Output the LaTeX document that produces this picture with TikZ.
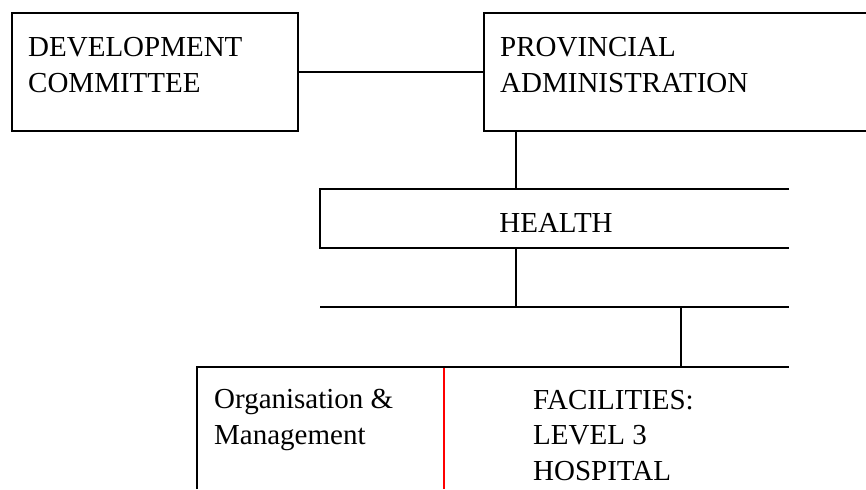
\documentclass[tikz,border=0pt]{standalone}
\usepackage{fontspec}
\setmainfont{Liberation Serif}
\usetikzlibrary{positioning}

\begin{document}
\begin{tikzpicture}[x=0.75pt,y=-0.75pt,line width=1.8pt,
    box/.style={draw,anchor=north west,inner sep=0pt,minimum width=214.5pt,minimum height=88.5pt},
    lbl/.style={anchor=base west,inner sep=0pt,align=left,font=\fontsize{21.75}{26.6}\selectfont}]
    \useasboundingbox (0,0) rectangle (866,489);
    \clip (0,0) rectangle (866,489);
    \node[box] (dev) at (11,12) {};
    \node[box,minimum width=300pt] (prov) at (483,12) {};
    \draw (dev) -- (prov);
    \node[lbl] (devtxt) at (27,92) {DEVELOPMENT\\COMMITTEE};
    \node[lbl] (provtxt) at (499,92) {PROVINCIAL\\ADMINISTRATION};

    \coordinate (provout) at (516,130);
    \coordinate (healthin) at (516,189);
    \coordinate (healthout) at (516,248);
    \coordinate (split) at (516,307);
    \coordinate (branch) at (681,307);
    \coordinate (levelin) at (681,367);
    \draw (provout) -- (healthin);
    \draw (789,189) -| (320,248) -- (789,248);
    \node[lbl,anchor=base] (health) at (556,232) {HEALTH};
    \draw (healthout) -- (split);
    \draw (320,307) -- (789,307);
    \draw (branch) -- (levelin);

    \draw[red,line width=1.4pt] (444,368) -- (444,489);
    \draw (197,489) -- (197,367) -- (789,367);
    \node[lbl] (orgman) at (213,444) {Organisation \&\\Management};
    \node[lbl] (facil) at (532,480) {FACILITIES:\\LEVEL 3\\HOSPITAL};
\end{tikzpicture}
\end{document}
